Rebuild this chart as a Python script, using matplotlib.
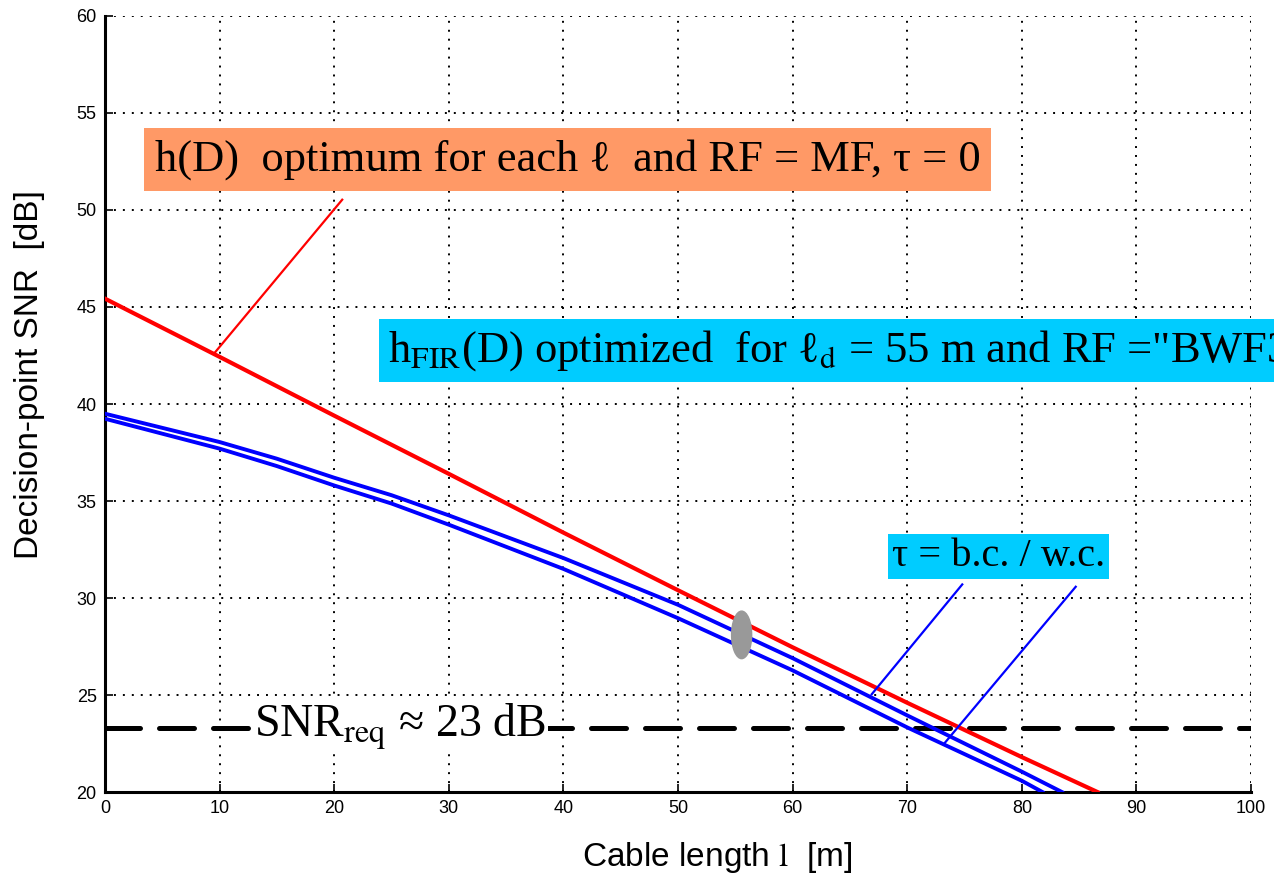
import numpy as np
import matplotlib
matplotlib.use('Agg')
from matplotlib import pyplot as plt
from matplotlib.patches import Ellipse

plt.rcParams['mathtext.fontset'] = 'stix'

# curves
x_red = [0, 10, 20, 30, 40, 50, 60, 70, 80, 86.6]
snr_red = [45.43, 42.43, 39.4, 36.4, 33.37, 30.4, 27.46, 24.6, 21.8, 20.0]

x_bc = [0, 10, 15, 20, 25, 30, 40, 50, 60, 70, 80, 83.5]
snr_bc = [39.5, 38.04, 37.18, 36.2, 35.3, 34.26, 32.06, 29.65, 26.9, 23.95, 21.05, 20.0]

x_wc = [0, 10, 15, 20, 25, 30, 40, 50, 60, 70, 80, 81.8]
snr_wc = [39.24, 37.7, 36.8, 35.8, 34.87, 33.78, 31.5, 28.96, 26.27, 23.33, 20.58, 20.0]

snr_req = 23.3

xticks = np.arange(0, 101, 10)
yticks = np.arange(20, 61, 5)

fig = plt.figure(figsize=(12.74, 8.82), dpi=100)
ax = fig.add_axes([0.0824, 0.102, 0.8996, 0.8799])

ax.plot(x_red, snr_red, color='#ff0000', lw=3.0, zorder=3)
ax.plot(x_bc, snr_bc, color='#0000ff', lw=2.8, zorder=3)
ax.plot(x_wc, snr_wc, color='#0000ff', lw=2.8, zorder=3)
ax.axhline(snr_req, color='black', lw=3.6, linestyle=(0, (7, 3.8)),
           dash_capstyle='round', zorder=2)

# pointer lines
ax.plot([9.6, 20.7], [42.66, 50.53], color='#ff0000', lw=1.6, zorder=3)
ax.plot([66.9, 74.8], [25.04, 30.7], color='#0000ff', lw=1.6, zorder=3)
ax.plot([73.3, 84.7], [22.55, 30.58], color='#0000ff', lw=1.6, zorder=3)

ax.add_patch(Ellipse((55.55, 28.1), 1.75, 2.45, color='#999999', zorder=4))

ax.set_xlim(0, 100)
ax.set_ylim(20, 60)
ax.set_xticks(xticks)
ax.set_yticks(yticks)
ax.grid(True, color='black', linestyle=(0, (1, 3.6)), lw=1.4)
ax.spines['top'].set_visible(False)
ax.spines['right'].set_visible(False)
ax.spines['left'].set_linewidth(2.2)
ax.spines['bottom'].set_linewidth(2.2)
ax.tick_params(direction='in', length=6, width=1.2, labelsize=13, pad=6)
for lab in ax.get_xticklabels() + ax.get_yticklabels():
    lab.set_family('Liberation Sans')

ax.set_ylabel('Decision-point SNR  [dB]', family='Liberation Sans', fontsize=24)
ax.set_xlabel(r'Cable length $\mathrm{l}$  [m]', family='Liberation Sans', fontsize=24)
ax.xaxis.set_label_coords(0.534, -0.062)
ax.yaxis.set_label_coords(-0.052, 0.538)

serif = 'Liberation Serif'
ax.text(0.0436, 0.815, 'h(D)  optimum for each ℓ  and RF = MF, τ = 0',
        transform=ax.transAxes, family=serif, fontsize=32, va='center', ha='left',
        bbox=dict(boxstyle='square,pad=0.24', fc='#ff9966', ec='none'), zorder=5)

# this box runs off the right edge in the reference as well
ax.text(0.247, 0.569, 'h$_{\\mathrm{FIR}}$(D) optimized  for ℓ$_{\\mathrm{d}}$ = 55 m and RF =\"BWF3\"',
        transform=ax.transAxes, family=serif, fontsize=32, va='center', ha='left',
        bbox=dict(boxstyle='square,pad=0.2', fc='#00ccff', ec='none'), zorder=5, clip_on=False)

ax.text(0.6865, 0.303, 'τ = b.c. / w.c.',
        transform=ax.transAxes, family=serif, fontsize=29, va='center', ha='left',
        bbox=dict(boxstyle='square,pad=0.1', fc='#00ccff', ec='none'), zorder=5)

ax.text(0.13, 0.085, 'SNR$_{\\mathrm{req}}$ ≈ 23 dB',
        transform=ax.transAxes, family=serif, fontsize=33, va='center', ha='left',
        bbox=dict(boxstyle='square,pad=0.05', fc='white', ec='none'), zorder=5)

fig.savefig('out.png', dpi=100)
